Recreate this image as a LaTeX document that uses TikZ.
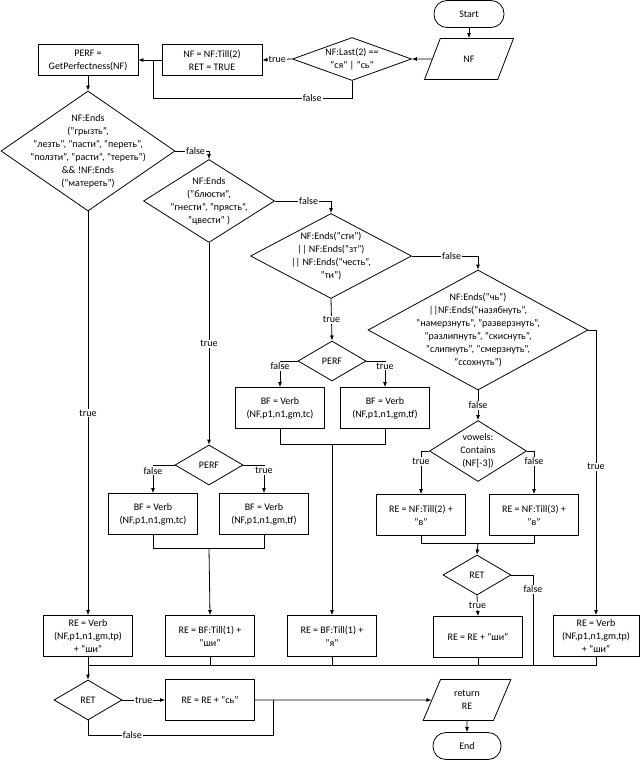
\documentclass[tikz,border=0pt]{standalone}
\usepackage{fontspec}
\setmainfont{Carlito}
\usetikzlibrary{shapes.geometric,arrows.meta}
\begin{document}
\begin{tikzpicture}[x=1pt,y=-1pt,
  font=\fontsize{10}{13}\selectfont,
  every path/.style={line width=0.8pt},
  arr/.style={-{Latex[length=5pt,width=4pt]}},
  box/.style={draw,rectangle,align=center,minimum width=89pt,minimum height=41pt,inner sep=1pt},
  dia/.style={draw,diamond,inner sep=0pt},
  para/.style={draw,trapezium,trapezium left angle=67,trapezium right angle=113,trapezium stretches=true,align=center,inner sep=1pt,minimum width=#1,minimum height=41pt},
  term/.style={draw,rectangle,rounded corners=13pt,minimum height=27pt},
  lbl/.style={fill=white,inner sep=1pt}]
\useasboundingbox (0,0) rectangle (640,760);
\newcommand{\dd}[5]{\node[dia,minimum width=#3pt,minimum height=#4pt,label={[align=center]center:#5}] (#1) at #2 {};}
% nodes
\node[term,minimum width=70pt] (start) at (469,14) {Start};
\node[para=89pt] (nf) at (469,59) {NF};
\dd{d0}{(352,59)}{119}{43}{NF:Last(2) ==\\"ся" | "сь"}
\node[box,minimum width=100pt,minimum height=31pt] (b0) at (212,60) {NF = NF:Till(2)\\RET = TRUE};
\node[box,minimum width=100pt,minimum height=31pt] (perf) at (88,60) {PERF =\\GetPerfectness(NF)};
\dd{d1}{(88,151)}{174}{120}{NF:Ends\\("грызть",\\"лезть", "пасти", "переть",\\"ползти", "расти", "тереть")\\\&\& !NF:Ends\\("матереть")}
\dd{d2}{(209,201)}{131}{83}{NF:Ends\\("блюсти",\\"гнести", "прясть",\\"цвести" )}
\dd{d3}{(331,256)}{161}{85}{NF:Ends("сти")\\|| NF:Ends("зт")\\|| NF:Ends("честь",\\"ти")}
\dd{d4}{(478,330)}{220}{120}{NF:Ends("чь")\\||NF:Ends("назябнуть",\\"намерзнуть", "разверзнуть",\\"разлипнуть", "скиснуть",\\"слипнуть", "смерзнуть",\\"ссохнуть")}
\dd{d5}{(478,451)}{97}{61}{vowels:\\Contains\\(NF[-3])}
\node[box] (b51) at (421,515) {RE = NF:Till(2) +\\"в"};
\node[box] (b52) at (534,515) {RE = NF:Till(3) +\\"в"};
\dd{ret1}{(477,575)}{68}{40}{RET}
\node[box] (bsh) at (478,637) {RE = RE + "ши"};
\node[box,minimum width=86pt] (bvr) at (596,636) {RE = Verb\\(NF,p1,n1,gm,tp)\\+ "ши"};
\dd{perfm}{(332,361)}{68}{40}{PERF}
\node[box] (bm1) at (280,408) {BF = Verb\\(NF,p1,n1,gm,tc)};
\node[box] (bm2) at (385,408) {BF = Verb\\(NF,p1,n1,gm,tf)};
\node[box] (bya) at (332,636) {RE = BF:Till(1) +\\"я"};
\dd{perfl}{(209,465)}{68}{40}{PERF}
\node[box] (bl1) at (153,514) {BF = Verb\\(NF,p1,n1,gm,tc)};
\node[box] (bl2) at (264,514) {BF = Verb\\(NF,p1,n1,gm,tf)};
\node[box] (bshi) at (210,636) {RE = BF:Till(1) +\\"ши"};
\node[box] (bvl) at (88,636) {RE = Verb\\(NF,p1,n1,gm,tp)\\+ "ши"};
\dd{ret2}{(88,700)}{68}{40}{RET}
\node[box] (bsj) at (210,700) {RE = RE + "сь"};
\node[para=88pt] (retn) at (467,700) {return\\RE};
\node[term,minimum width=68pt] (endn) at (467,746) {End};
% coordinates
\coordinate (j0) at (153,98);
\coordinate (m5) at (478,543);
\coordinate (mr) at (533,665);
\coordinate (mL) at (88,665);
\coordinate (mR) at (596,665);
\coordinate (mm) at (332,444);
\coordinate (ml) at (209,548);
\coordinate (fj) at (273,735);
% edges
\draw[arr] (start) -- (nf);
\draw[arr] (nf) -- (d0.east);
\draw[arr] (d0.west) -- node[lbl]{true} (b0.east);
\draw[arr] (b0.west) -- (perf.east);
\draw (d0.south) |- node[lbl,pos=0.6]{false} (j0) -- (j0 |- perf.east);
\draw[arr] (perf) -- (d1.north);
\draw[arr] (d1.east) -| node[lbl,pos=0.3]{false} (d2.north);
\draw[arr] (d2.east) -| node[lbl,pos=0.3]{false} (d3.north);
\draw[arr] (d3.east) -| node[lbl,pos=0.3]{false} (d4.north);
\draw[arr] (d4.east) -| node[lbl,pos=0.74]{true} (bvr.north);
\draw[arr] (d4.south) -- node[lbl]{false} (d5.north);
\draw[arr] (d5.west) -| node[lbl,pos=0.62]{true} (b51.north);
\draw[arr] (d5.east) -| node[lbl,pos=0.62]{false} (b52.north);
\draw (b51.south) |- (m5);
\draw (b52.south) |- (m5);
\draw[arr] (m5) -- (ret1.north);
\draw (ret1.east) -| node[lbl,pos=0.58]{false} (mr);
\draw[arr] (ret1.south) -- node[lbl]{true} (bsh.north);
\draw (bvl.south) -- (mL) -- (mR) -- (bvr.south);
\draw (bshi.south) -- (bshi.south |- mL);
\draw (bya.south) -- (bya.south |- mL);
\draw (bsh.south) -- (bsh.south |- mL);
\draw[arr] (mL) -- (ret2.north);
\draw[arr] (d3.south) -- node[lbl]{true} (perfm.north);
\draw[arr] (perfm.west) -| node[lbl,pos=0.6]{false} (bm1.north);
\draw[arr] (perfm.east) -| node[lbl,pos=0.6]{true} (bm2.north);
\draw (bm1.south) |- (mm);
\draw (bm2.south) |- (mm);
\draw[arr] (mm) -- (bya.north);
\draw[arr] (d2.south) -- node[lbl]{true} (perfl.north);
\draw[arr] (perfl.west) -| node[lbl,pos=0.6]{false} (bl1.north);
\draw[arr] (perfl.east) -| node[lbl,pos=0.6]{true} (bl2.north);
\draw (bl1.south) |- (ml);
\draw (bl2.south) |- (ml);
\draw[arr] (ml) -- (bshi.north);
\draw[arr] (d1.south) -- node[lbl]{true} (bvl.north);
\draw[arr] (ret2.east) -- node[lbl]{true} (bsj.west);
\draw[arr] (bsj.east) -- (retn.west);
\draw (ret2.south) |- node[lbl,pos=0.62]{false} (fj) -- (fj |- bsj.east);
\draw[arr] (retn) -- (endn);
\end{tikzpicture}
\end{document}
